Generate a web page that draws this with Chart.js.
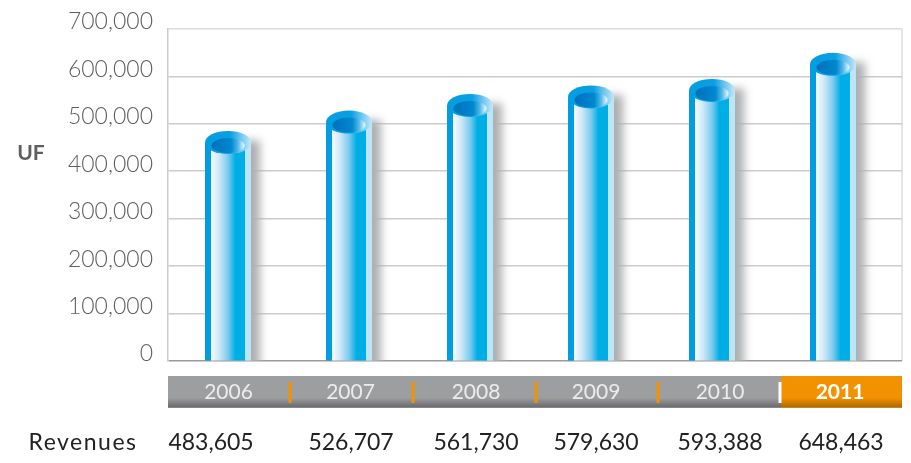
<!DOCTYPE html>
<html>
<head>
<meta charset="utf-8">
<style>
  html, body { margin: 0; padding: 0; background: #fff; }
  #wrap { width: 911px; height: 463px; position: relative; }
</style>
<script src="https://cdn.jsdelivr.net/npm/chart.js@4/dist/chart.umd.min.js"></script>
</head>
<body>
<div id="wrap"><canvas id="chart" width="911" height="463"></canvas></div>
<script>
const years = [2006, 2007, 2008, 2009, 2010, 2011];
const revenues = [483605, 526707, 561730, 579630, 593388, 648463];
const yTicks = [0, 100000, 200000, 300000, 400000, 500000, 600000, 700000];

// offsets of the printed labels from each bar centre, the source is not evenly spaced
const yearOffset = [0.5, 1.5, 6, 5, 8, 7];
const revenueOffset = [-17, 2, 6, 5, 8, 8];
const dividerX = [290, 413, 536, 658, 780];

const FONT = '"Lato", sans-serif';
const BAR_W = 46;
const CAP_RY = 11.5;

function fmt(n) { return n.toLocaleString("en-US"); }

function hGrad(ctx, x0, x1, stops) {
    const g = ctx.createLinearGradient(x0, 0, x1, 0);
    stops.forEach(s => g.addColorStop(s[0], s[1]));
    return g;
}

function bodyFill(ctx, cx) {
    if (!isFinite(cx)) return "#00aee6";
    return hGrad(ctx, cx - 23, cx + 23, [
        [0, "#009ee0"], [0.13, "#009ee0"], [0.131, "#f6fbfe"],
        [0.3, "#cfe9f8"], [0.5, "#7ccbef"], [0.66, "#00aee6"],
        [0.869, "#00aee6"], [0.87, "#bce6f8"], [1, "#bce6f8"]
    ]);
}

const cylinders = {
    id: "cylinders",
    beforeDraw(chart) {
        const c = chart.ctx;
        const a = chart.chartArea;
        // year band
        const bandTop = 376, bandBot = 408, split = 781;
        let g = c.createLinearGradient(0, bandTop, 0, bandBot);
        g.addColorStop(0, "#9d9e9f"); g.addColorStop(0.68, "#9d9e9f");
        g.addColorStop(0.97, "#6b6b6d"); g.addColorStop(1, "#a5a5a6");
        c.fillStyle = g;
        c.fillRect(a.left, bandTop, split - a.left, bandBot - bandTop);
        g = c.createLinearGradient(0, bandTop, 0, bandBot);
        g.addColorStop(0, "#f39200"); g.addColorStop(0.68, "#f39200");
        g.addColorStop(0.97, "#b06a00"); g.addColorStop(1, "#d0a060");
        c.fillStyle = g;
        c.fillRect(split, bandTop, a.right - split, bandBot - bandTop);
        dividerX.forEach((x, i) => {
            c.fillStyle = i === dividerX.length - 1 ? "#ffffff" : "#f39200";
            c.fillRect(x - 1.5, 382, 3, 21);
        });
        // right edge of the frame
        c.strokeStyle = "#dcdcdc";
        c.lineWidth = 1.5;
        c.beginPath();
        c.moveTo(a.right, a.top);
        c.lineTo(a.right, a.bottom);
        c.stroke();
    },
    beforeDatasetDraw(chart) {
        const c = chart.ctx;
        const a = chart.chartArea;
        const bars = chart.getDatasetMeta(0).data;
        // soft shadow on the right of each tube
        bars.forEach(b => {
            c.save();
            c.beginPath();
            c.rect(a.left, a.top, a.width, a.bottom - a.top);
            c.clip();
            c.filter = "blur(4px)";
            c.fillStyle = "#aeafb1";
            c.fillRect(b.x, b.y + 9, 23 + 9, a.bottom - b.y + 20);
            c.restore();
        });
        // round the bar tops so nothing pokes out above the cap
        c.save();
        c.beginPath();
        bars.forEach(b => {
            c.rect(b.x - 23, b.y + CAP_RY, BAR_W, a.bottom - b.y - CAP_RY);
        });
        c.clip();
    },
    afterDatasetDraw(chart) {
        const c = chart.ctx;
        c.restore();
        chart.getDatasetMeta(0).data.forEach(b => {
            const cy = b.y + CAP_RY - 0.5;
            c.fillStyle = hGrad(c, b.x - 23, b.x + 23, [
                [0, "#009ee0"], [0.55, "#0aa0e2"], [0.78, "#6fc6ee"], [1, "#c4e8f9"]
            ]);
            c.beginPath();
            c.ellipse(b.x, cy, 23, CAP_RY, 0, 0, Math.PI * 2);
            c.fill();
            c.fillStyle = hGrad(c, b.x - 16.5, b.x + 16.5, [
                [0, "#0070bb"], [0.6, "#0088d0"], [0.8, "#50b8e8"], [1, "#f0f9fe"]
            ]);
            c.beginPath();
            c.ellipse(b.x, cy + 3, 16.5, 7.5, 0, 0, Math.PI * 2);
            c.fill();
        });
    },
    afterDraw(chart) {
        const c = chart.ctx;
        const bars = chart.getDatasetMeta(0).data;
        c.save();
        c.textBaseline = "middle";
        c.textAlign = "center";
        years.forEach((y, i) => {
            const last = i === years.length - 1;
            c.font = (last ? "bold " : "400 ") + "21px " + FONT;
            c.fillStyle = last ? "#ffffff" : "#ececec";
            c.fillText(String(y), bars[i].x + yearOffset[i], 392);
        });
        c.fillStyle = "#222222";
        c.font = "400 23px " + FONT;
        revenues.forEach((v, i) => {
            c.fillText(fmt(v), bars[i].x + revenueOffset[i], 443);
        });
        c.letterSpacing = "1.5px";
        c.fillText("Revenues", 83, 443);
        c.letterSpacing = "0px";
        c.fillStyle = "#5f5f61";
        c.font = "bold 21px " + FONT;
        c.fillText("UF", 31, 153);
        c.restore();
    }
};

new Chart(document.getElementById("chart"), {
    type: "bar",
    data: {
        labels: years,
        datasets: [{
            data: years.map((y, i) => ({ x: y, y: revenues[i] })),
            barThickness: BAR_W,
            borderWidth: 0,
            backgroundColor: ctx => bodyFill(ctx.chart.ctx, ctx.chart.scales.x.getPixelForValue(years[ctx.dataIndex]))
        }]
    },
    options: {
        responsive: false,
        animation: false,
        layout: { padding: { left: 0, top: 27, right: 9, bottom: 102 } },
        plugins: { legend: { display: false }, tooltip: { enabled: false } },
        scales: {
            x: { type: "linear", display: false, min: 2005.504, max: 2011.57, offset: false },
            y: {
                min: 0,
                max: 700000,
                afterBuildTicks: s => { s.ticks = yTicks.map(v => ({ value: v })); },
                afterFit: s => { s.width = 168; },
                border: { color: "#cccccc", width: 1.5 },
                grid: {
                    drawTicks: false,
                    lineWidth: 1.5,
                    color: ctx => ctx.tick && ctx.tick.value === 0 ? "#9a9a9a" : (ctx.tick && ctx.tick.value === 700000 ? "#dcdcdc" : "#cccccc")
                },
                ticks: {
                    autoSkip: false,
                    padding: 15,
                    labelOffset: -7,
                    color: "#5e5f61",
                    font: { family: FONT, size: 23, weight: "300" },
                    callback: v => fmt(v)
                }
            }
        }
    },
    plugins: [cylinders]
});
</script>
</body>
</html>
